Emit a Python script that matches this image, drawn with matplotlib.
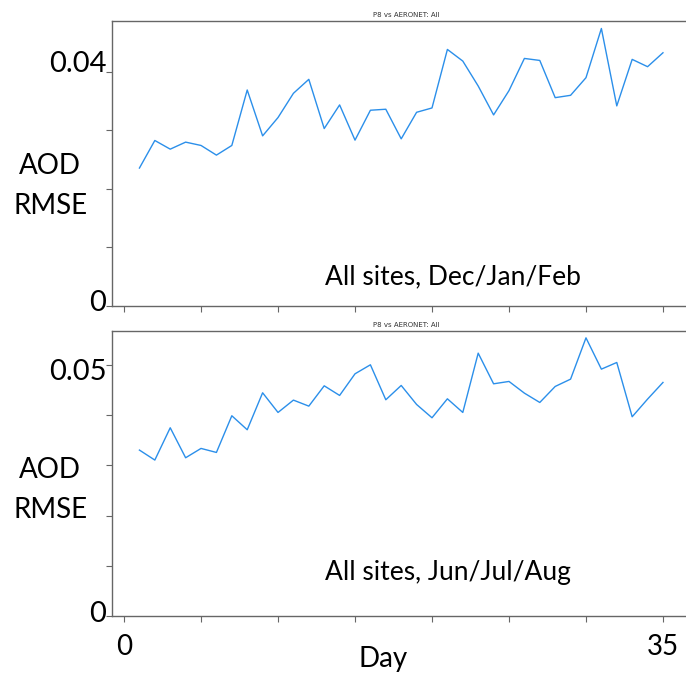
import numpy as np
import matplotlib
matplotlib.use("Agg")
import matplotlib.pyplot as plt
import matplotlib.transforms as mtransforms

# Daily AOD RMSE, P8 vs AERONET, all sites
days = np.arange(1, 36)
rmse_djf = [0.02357, 0.02828, 0.02680, 0.02800, 0.02743, 0.02578, 0.02743,
            0.03691, 0.02907, 0.03220, 0.03634, 0.03873, 0.03032, 0.03436,
            0.02834, 0.03345, 0.03362, 0.02856, 0.03310, 0.03384, 0.04384,
            0.04185, 0.03759, 0.03265, 0.03680, 0.04230, 0.04196, 0.03560,
            0.03600, 0.03901, 0.04742, 0.03419, 0.04214, 0.04089, 0.04327]
rmse_jja = [0.03307, 0.03108, 0.03752, 0.03154, 0.03340, 0.03260, 0.03991,
            0.03712, 0.04449, 0.04057, 0.04303, 0.04183, 0.04588, 0.04396,
            0.04827, 0.05007, 0.04310, 0.04595, 0.04216, 0.03951, 0.04329,
            0.04057, 0.05239, 0.04628, 0.04675, 0.04442, 0.04256, 0.04575,
            0.04721, 0.05544, 0.04920, 0.05053, 0.03971, 0.04323, 0.04655]

panels = [
    {"values": rmse_djf, "label": "All sites, Dec/Jan/Feb",
     "ymax": 0.0487, "yticks": [0, 0.01, 0.02, 0.03, 0.04],
     "yticklabels": ["0", "", "", "", "0.04"], "text_y": 0.102, "ylab_y": 0.42,
     "label_shift": [5, 0, 0, 0, 10]},
    {"values": rmse_jja, "label": "All sites, Jun/Jul/Aug",
     "ymax": 0.0568, "yticks": [0, 0.01, 0.02, 0.03, 0.04, 0.05],
     "yticklabels": ["0", "", "", "", "", "0.05"], "text_y": 0.154, "ylab_y": 0.442,
     "label_shift": [5, 0, 0, 0, 0, -4]},
]

font = "Lato"
fig = plt.figure(figsize=(6.86, 6.75), dpi=100)
positions = [[0.1633, 0.5467, 0.857, 0.4222], [0.1633, 0.0874, 0.857, 0.4222]]

for i, p in enumerate(panels):
    ax = fig.add_axes(positions[i])
    ax.plot(days, p["values"], color="#2b8fea", linewidth=1)
    ax.set_xlim(-0.78, 37.4)
    ax.set_ylim(0, p["ymax"])
    ax.set_xticks(np.arange(0, 40, 5))
    ax.set_yticks(p["yticks"])
    ax.set_yticklabels(p["yticklabels"], family=font, fontsize=21)
    ax.tick_params(axis="y", length=4, width=0.8, color="#666666", pad=0)
    ax.tick_params(axis="x", length=4, width=0.8, color="#666666")
    # labels were nudged by hand in the original
    for lab, dy in zip(ax.get_yticklabels(), p["label_shift"]):
        off = mtransforms.ScaledTranslation(0, dy / 100, fig.dpi_scale_trans)
        lab.set_transform(lab.get_transform() + off)
    for s in ax.spines.values():
        s.set_color("#666666")
        s.set_linewidth(1)
    ax.set_title("P8 vs AERONET: All", fontsize=5, pad=3, color="#333333")
    ax.text(0.362, p["text_y"], p["label"], transform=ax.transAxes,
            family=font, fontsize=19, va="center", ha="left")
    ax.text(-0.105, p["ylab_y"], "AOD\nRMSE", transform=ax.transAxes,
            family=font, fontsize=20, va="center", ha="center",
            linespacing=1.65)
    if i == 0:
        ax.set_xticklabels([])
    else:
        ax.set_xticklabels(["0", "", "", "", "", "", "", "35"],
                           family=font, fontsize=20)
        ax.tick_params(axis="x", pad=9)
        ax.set_xlabel("Day", family=font, fontsize=20)
        ax.xaxis.set_label_coords(0.461, -0.105)

fig.savefig("out.png", dpi=100)
